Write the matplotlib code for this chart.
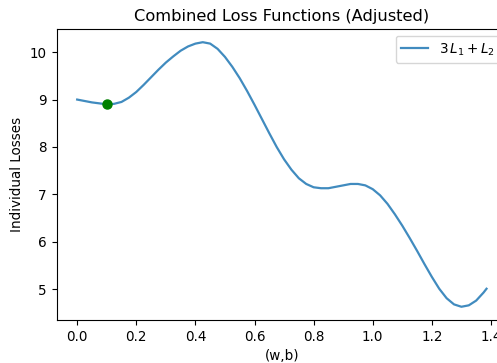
import matplotlib
matplotlib.use("Agg")
import matplotlib.pyplot as plt

# Combined loss values sampled along the (w,b) path
wb = [0.000, 0.025, 0.050, 0.075, 0.100, 0.125, 0.150, 0.175, 0.200, 0.225,
      0.250, 0.275, 0.300, 0.325, 0.350, 0.375, 0.400, 0.425, 0.450, 0.475,
      0.500, 0.525, 0.550, 0.575, 0.600, 0.625, 0.650, 0.675, 0.700, 0.725,
      0.750, 0.775, 0.800, 0.825, 0.850, 0.875, 0.900, 0.925, 0.950, 0.975,
      1.000, 1.025, 1.050, 1.075, 1.100, 1.125, 1.150, 1.175, 1.200, 1.225,
      1.250, 1.275, 1.300, 1.325, 1.350, 1.375, 1.385]
loss = [9.00, 8.97, 8.94, 8.92, 8.90, 8.91, 8.95, 9.04, 9.16, 9.31,
        9.47, 9.63, 9.78, 9.91, 10.03, 10.12, 10.18, 10.21, 10.18, 10.07,
        9.90, 9.69, 9.45, 9.18, 8.89, 8.59, 8.29, 8.00, 7.74, 7.52,
        7.34, 7.22, 7.15, 7.13, 7.13, 7.16, 7.19, 7.22, 7.22, 7.19,
        7.11, 6.98, 6.80, 6.58, 6.34, 6.08, 5.81, 5.53, 5.26, 5.01,
        4.81, 4.68, 4.63, 4.66, 4.76, 4.93, 5.01]

# Highlighted starting point
start_wb = [0.10]
start_loss = [8.90]

series_label = r"$3\,L_1 + L_2$"
x_ticks = [0.0, 0.2, 0.4, 0.6, 0.8, 1.0, 1.2, 1.4]

fig = plt.figure(figsize=(4.97, 3.63), dpi=100)
ax = fig.add_axes([0.1141, 0.1185, 0.906, 0.8017])

ax.plot(wb, loss, color="#1f77b4", lw=1.6, alpha=0.85, label=series_label)
ax.plot(start_wb, start_loss, "o", color="green", markersize=6.5)

ax.set_xticks(x_ticks)
ax.set_title("Combined Loss Functions (Adjusted)", fontsize=11.7)
ax.set_xlabel("(w,b)", fontsize=9.75)
ax.set_ylabel("Individual Losses", fontsize=9.75)
ax.tick_params(labelsize=9.75)
ax.legend(loc="upper right", fontsize=9.75)

fig.savefig("out.png", dpi=100)
